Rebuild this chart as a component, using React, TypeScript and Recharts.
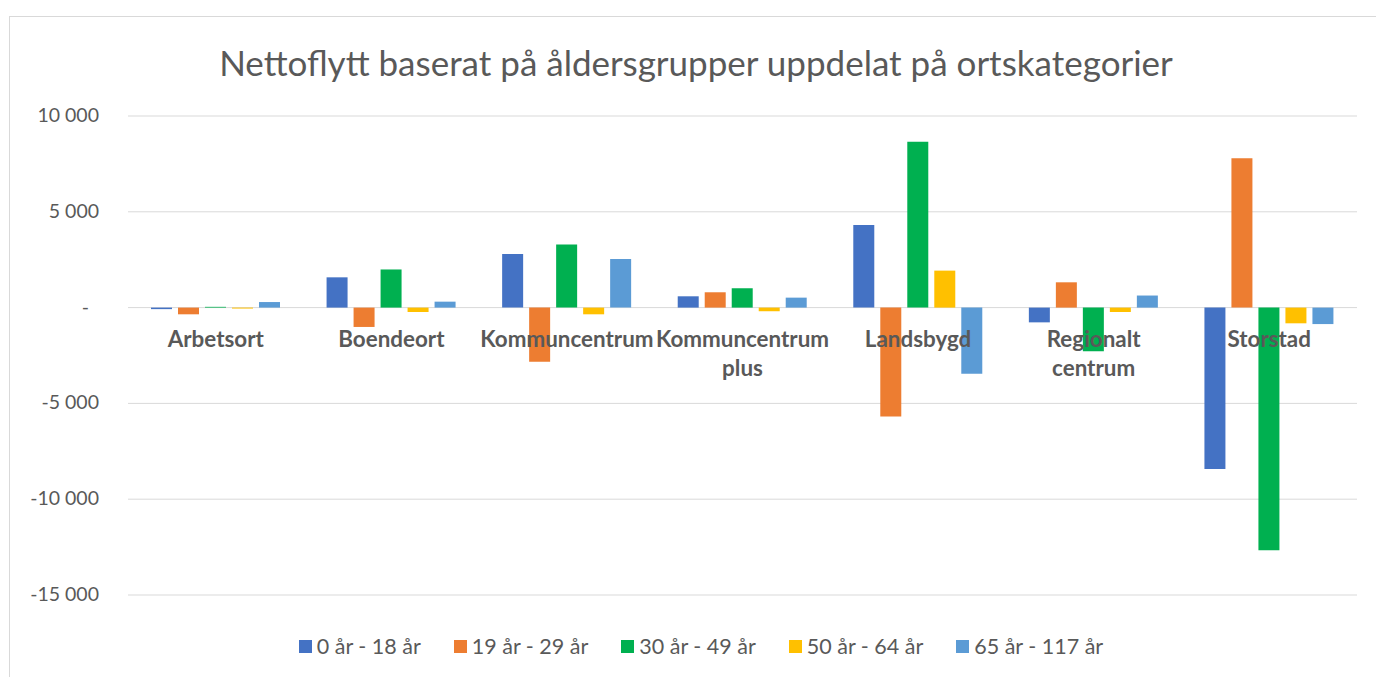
import { Bar, BarChart, CartesianGrid, Legend, XAxis, YAxis } from "recharts";

const categories = [
  "Arbetsort",
  "Boendeort",
  "Kommuncentrum",
  "Kommuncentrum plus",
  "Landsbygd",
  "Regionalt centrum",
  "Storstad",
];

const age0to18 = [-80, 1580, 2800, 590, 4310, -770, -8430];
const age19to29 = [-350, -1010, -2820, 800, -5690, 1320, 7800];
const age30to49 = [40, 1990, 3290, 1010, 8650, -2280, -12670];
const age50to64 = [-50, -230, -350, -190, 1930, -230, -820];
const age65to117 = [290, 310, 2540, 520, -3450, 630, -860];

const seriesNames = ["0 år - 18 år", "19 år - 29 år", "30 år - 49 år", "50 år - 64 år", "65 år - 117 år"];
const seriesColors = ["#4472C4", "#ED7D31", "#00B050", "#FFC000", "#5B9BD5"];
const yTicks = [-15000, -10000, -5000, 0, 5000, 10000];

const seriesValues = [age0to18, age19to29, age30to49, age50to64, age65to117];
const keys = ["s0", "s1", "s2", "s3", "s4"];

const data = categories.map((name, i) => {
  const row: Record<string, string | number> = { name };
  seriesValues.forEach((vals, s) => {
    row[keys[s]] = vals[i];
  });
  return row;
});

const WIDTH = 1376;
const HEIGHT = 677;
const MARGIN = { top: 116, right: 19, bottom: 81, left: 28 };
const X_AXIS_H = 1;
const Y_MIN = -15000;
const Y_MAX = 10000;
const PLOT_H = HEIGHT - MARGIN.top - MARGIN.bottom - X_AXIS_H;
const ZERO_Y = MARGIN.top + (PLOT_H * Y_MAX) / (Y_MAX - Y_MIN);

const FONT = "Lato, 'Open Sans', sans-serif";
const TEXT = "#595959";

function formatNumber(v: number) {
  if (v === 0) return "-";
  const abs = Math.abs(v)
    .toString()
    .replace(/\B(?=(\d{3})+(?!\d))/g, " ");
  return v < 0 ? `-${abs}` : abs;
}

function CategoryTick({ x, payload }: { x: number; payload: { value: string } }) {
  const lines = String(payload.value).split(" ");
  return (
    <text
      x={x}
      y={ZERO_Y + 39}
      textAnchor="middle"
      fill={TEXT}
      fontSize={22.4}
      fontWeight={700}
      fontFamily={FONT}
    >
      {lines.map((line, i) => (
        <tspan key={line} x={x} dy={i === 0 ? 0 : 29}>
          {line}
        </tspan>
      ))}
    </text>
  );
}

function ValueTick({ x, y, payload }: { x: number; y: number; payload: { value: number } }) {
  const v = payload.value;
  return (
    <text
      x={v === 0 ? x - 10 : x}
      y={y}
      dy={6}
      textAnchor="end"
      fill={TEXT}
      fontSize={19.5}
      fontFamily={FONT}
    >
      {formatNumber(v)}
    </text>
  );
}

function LegendContent() {
  return (
    <div
      style={{
        display: "flex",
        justifyContent: "center",
        gap: 33,
        paddingLeft: 26,
        fontFamily: FONT,
        fontSize: 21.5,
        color: TEXT,
      }}
    >
      {seriesNames.map((name, i) => (
        <div key={name} style={{ display: "flex", alignItems: "center" }}>
          <span
            style={{
              width: 13,
              height: 13,
              background: seriesColors[i],
              marginRight: 5,
              display: "inline-block",
            }}
          />
          <span>{name}</span>
        </div>
      ))}
    </div>
  );
}

export default function App() {
  return (
    <div
      style={{
        position: "absolute",
        left: 0,
        top: 0,
        width: WIDTH,
        height: HEIGHT,
        overflow: "hidden",
        background: "#fff",
      }}
    >
      <div
        style={{
          position: "absolute",
          left: 9,
          top: 16,
          width: 1400,
          height: 700,
          border: "1px solid #d9d9d9",
          boxSizing: "border-box",
        }}
      />
      <div
        style={{
          position: "absolute",
          left: 8,
          top: 39,
          width: WIDTH,
          textAlign: "center",
          fontFamily: FONT,
          fontSize: 35,
          color: TEXT,
          lineHeight: "46px",
        }}
      >
        Nettoflytt baserat på åldersgrupper uppdelat på ortskategorier
      </div>
      <div style={{ position: "absolute", left: 0, top: 0 }}>
        <BarChart
          width={WIDTH}
          height={HEIGHT}
          data={data}
          margin={MARGIN}
          barSize={21}
          barGap={6}
        >
          <CartesianGrid stroke="#d9d9d9" vertical={false} />
          <XAxis
            dataKey="name"
            height={X_AXIS_H}
            axisLine={false}
            tickLine={false}
            interval={0}
            // eslint-disable-next-line @typescript-eslint/no-explicit-any
            tick={(props: any) => (
              <CategoryTick x={Number(props.x)} payload={props.payload} />
            )}
          />
          <YAxis
            domain={[Y_MIN, Y_MAX]}
            ticks={yTicks}
            width={100}
            axisLine={false}
            tickLine={false}
            interval={0}
            // eslint-disable-next-line @typescript-eslint/no-explicit-any
            tick={(props: any) => (
              <ValueTick x={Number(props.x) - 21} y={Number(props.y)} payload={props.payload} />
            )}
          />
          <Legend
            verticalAlign="middle"
            layout="horizontal"
            wrapperStyle={{ top: 633, left: 0, width: WIDTH }}
            content={() => <LegendContent />}
          />
          {keys.map((k, i) => (
            <Bar
              key={k}
              dataKey={k}
              name={seriesNames[i]}
              fill={seriesColors[i]}
              isAnimationActive={false}
            />
          ))}
        </BarChart>
      </div>
    </div>
  );
}
